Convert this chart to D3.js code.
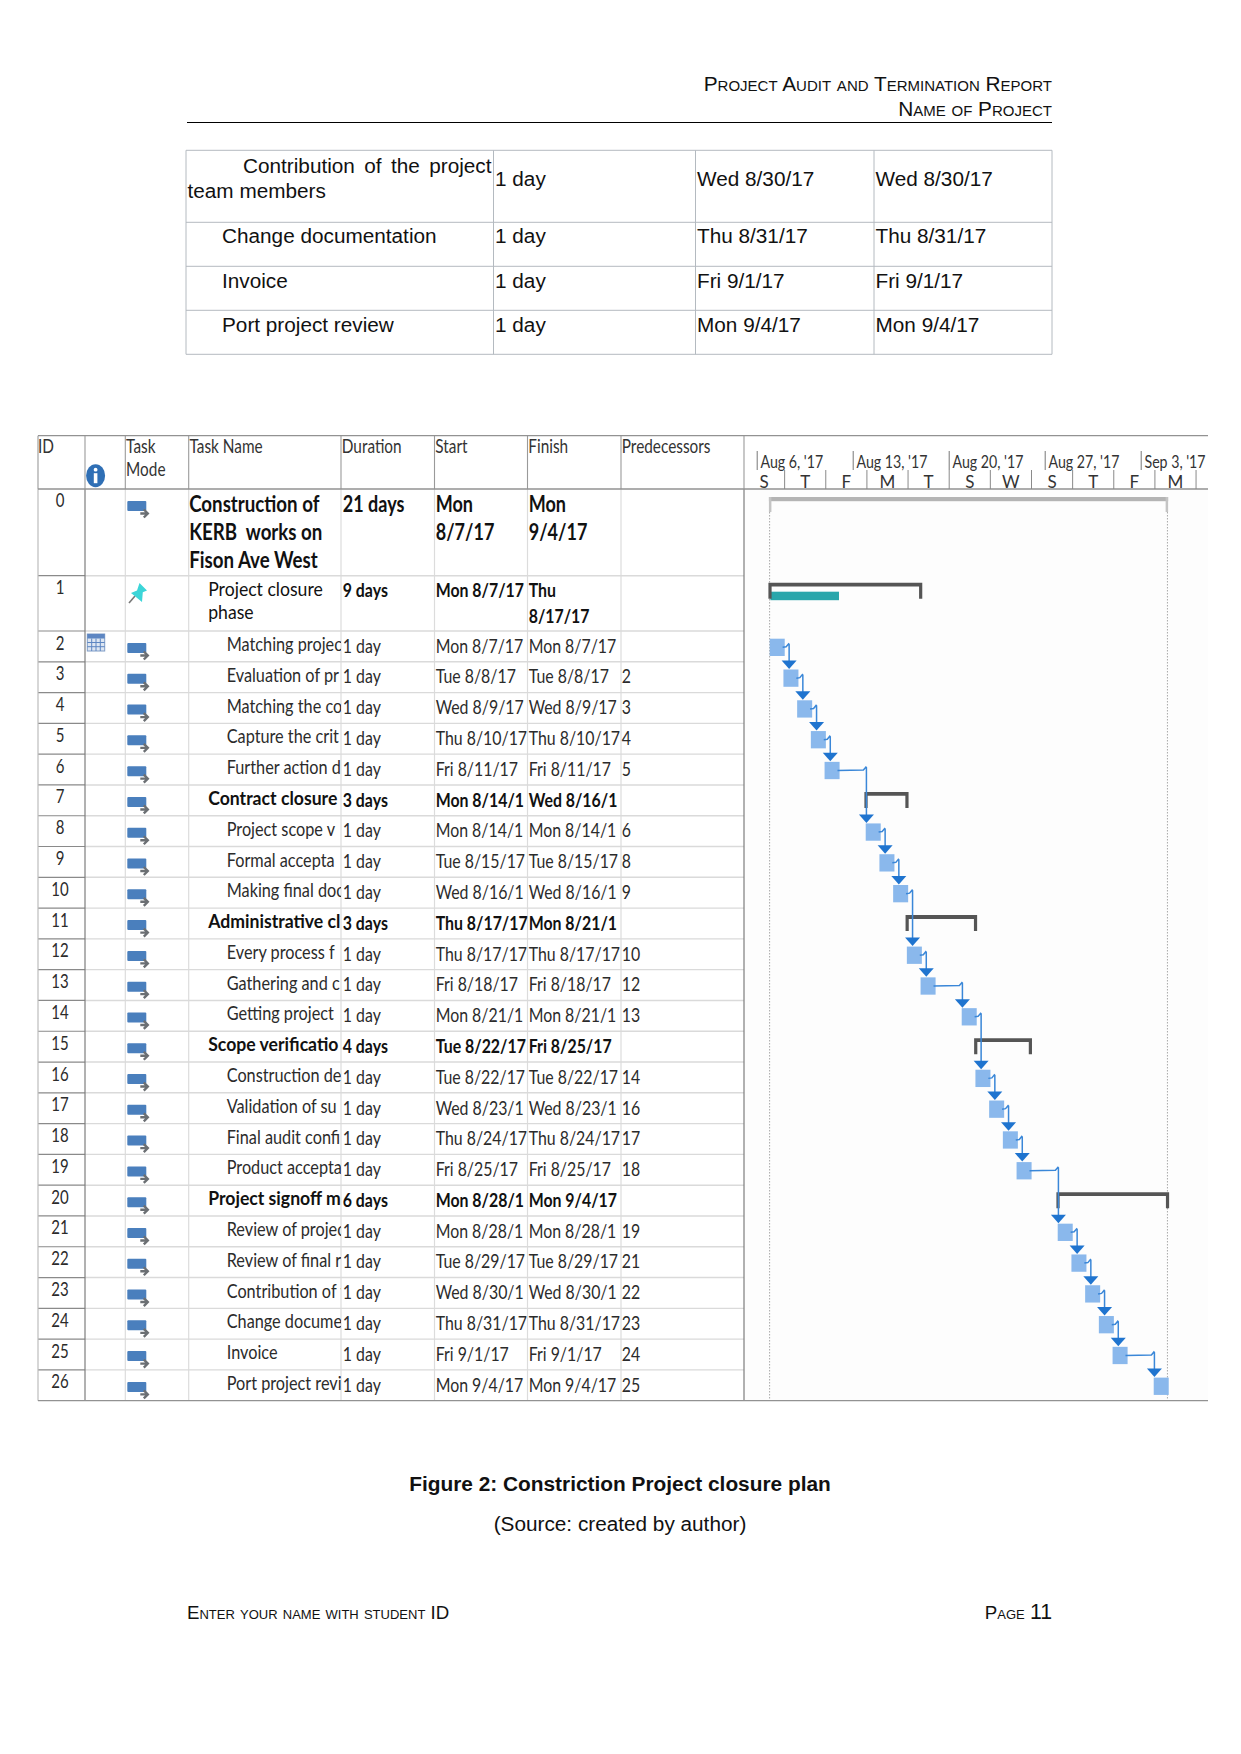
<!DOCTYPE html>
<html>
<head>
<meta charset="utf-8">
<script src="https://cdn.jsdelivr.net/npm/d3@7"></script>
<style>
  body { margin: 0; background: #fff; }
  text { white-space: pre; }
</style>
</head>
<body>
<div id="page"></div>
<script>
// Data ----------------------------------------------
const taskNames = [
  "Construction of\nKERB  works on\nFison Ave West", "Project closure\nphase",
  "Matching projec", "Evaluation of pr", "Matching the co", "Capture the crit", "Further action d",
  "Contract closure", "Project scope v", "Formal accepta", "Making final doc",
  "Administrative cl", "Every process f", "Gathering and c", "Getting project",
  "Scope verificatio", "Construction de", "Validation of su", "Final audit confi", "Product accepta",
  "Project signoff m", "Review of projec", "Review of final r", "Contribution of t", "Change docume", "Invoice", "Port project revi"
];
const levels = [0, 1, 2, 2, 2, 2, 2, 1, 2, 2, 2, 1, 2, 2, 2, 1, 2, 2, 2, 2, 1, 2, 2, 2, 2, 2, 2];
const durations = ["21 days", "9 days", "1 day", "1 day", "1 day", "1 day", "1 day", "3 days", "1 day", "1 day", "1 day",
  "3 days", "1 day", "1 day", "1 day", "4 days", "1 day", "1 day", "1 day", "1 day", "6 days", "1 day", "1 day", "1 day", "1 day", "1 day", "1 day"];
const startLabels = ["Mon\n8/7/17", "Mon 8/7/17", "Mon 8/7/17", "Tue 8/8/17", "Wed 8/9/17", "Thu 8/10/17", "Fri 8/11/17",
  "Mon 8/14/1", "Mon 8/14/1", "Tue 8/15/17", "Wed 8/16/1", "Thu 8/17/17", "Thu 8/17/17", "Fri 8/18/17", "Mon 8/21/1",
  "Tue 8/22/17", "Tue 8/22/17", "Wed 8/23/1", "Thu 8/24/17", "Fri 8/25/17", "Mon 8/28/1", "Mon 8/28/1", "Tue 8/29/17",
  "Wed 8/30/1", "Thu 8/31/17", "Fri 9/1/17", "Mon 9/4/17"];
const finishLabels = ["Mon\n9/4/17", "Thu\n8/17/17", "Mon 8/7/17", "Tue 8/8/17", "Wed 8/9/17", "Thu 8/10/17", "Fri 8/11/17",
  "Wed 8/16/1", "Mon 8/14/1", "Tue 8/15/17", "Wed 8/16/1", "Mon 8/21/1", "Thu 8/17/17", "Fri 8/18/17", "Mon 8/21/1",
  "Fri 8/25/17", "Tue 8/22/17", "Wed 8/23/1", "Thu 8/24/17", "Fri 8/25/17", "Mon 9/4/17", "Mon 8/28/1", "Tue 8/29/17",
  "Wed 8/30/1", "Thu 8/31/17", "Fri 9/1/17", "Mon 9/4/17"];
const startDates = ["8/7/17", "8/7/17", "8/7/17", "8/8/17", "8/9/17", "8/10/17", "8/11/17", "8/14/17", "8/14/17", "8/15/17", "8/16/17",
  "8/17/17", "8/17/17", "8/18/17", "8/21/17", "8/22/17", "8/22/17", "8/23/17", "8/24/17", "8/25/17", "8/28/17", "8/28/17", "8/29/17",
  "8/30/17", "8/31/17", "9/1/17", "9/4/17"];
const finishDates = ["9/4/17", "8/17/17", "8/7/17", "8/8/17", "8/9/17", "8/10/17", "8/11/17", "8/16/17", "8/14/17", "8/15/17", "8/16/17",
  "8/21/17", "8/17/17", "8/18/17", "8/21/17", "8/25/17", "8/22/17", "8/23/17", "8/24/17", "8/25/17", "9/4/17", "8/28/17", "8/29/17",
  "8/30/17", "8/31/17", "9/1/17", "9/4/17"];
const predecessors = [null, null, null, 2, 3, 4, 5, null, 6, 8, 9, null, 10, 12, 13, null, 14, 16, 17, 18, null, 19, 21, 22, 23, 24, 25];
const summaryRows = [1, 7, 11, 15, 20];
const manualBar = ["8/7/17", "8/11/17"];

const weekTicks = ["8/6/17", "8/13/17", "8/20/17", "8/27/17", "9/3/17"];
const dayTicks = ["8/5/17", "8/8/17", "8/11/17", "8/14/17", "8/17/17", "8/20/17", "8/23/17", "8/26/17", "8/29/17", "9/1/17", "9/4/17", "9/7/17"];

const columnHeads = ["ID", "", "Task\nMode", "Task Name", "Duration", "Start", "Finish", "Predecessors"];

const closeTasks = ["Change documentation", "Invoice", "Port project review"];
const closeDurations = ["1 day", "1 day", "1 day", "1 day"];
const closeStarts = ["Wed 8/30/17", "Thu 8/31/17", "Fri 9/1/17", "Mon 9/4/17"];

// Constants ----------------------------------------------
const width = 1241;
const height = 1754;
const pageFont = "'Liberation Sans', sans-serif";
const ganttFont = "Lato, sans-serif";
const columns = [38, 85, 125.3, 188.7, 341, 434.5, 527.5, 621, 744];
const ganttRight = 1208;
const headerTop = 435.7;
const headerBottom = 489;
const narrow = 0.81;
const bodySize = 19.6;

const parseDate = d3.timeParse("%-m/%-d/%y");
const start = startDates.map(parseDate);
const finish = finishDates.map(parseDate);

// Scale functions ----------------------------------------------
const xScale = d3.scaleTime()
  .domain([parseDate("8/6/17"), parseDate("9/3/17")])
  .range([756.7, 1140.7]);

const rowScale = d3.scaleLinear()
  .domain([0, 1, 2, 27])
  .range([headerBottom, 575.7, 631, 1400.7]);

const dayEnd = d => d3.timeDay.offset(d, 1);

// Functions ----------------------------------------------

// Squeezes drawn text sideways, the gantt screenshot is taller than it is wide
function squeeze(sel, factor) {
  sel.each(function () {
    const el = d3.select(this);
    const x = +el.attr("x") || 0;
    const y = +el.attr("y") || 0;
    el.attr("x", 0).attr("y", 0)
      .attr("transform", `translate(${x},${y}) scale(${factor},1)`);
  });
}

function cellText(g, x, y, str, opts = {}) {
  return g.append("text")
    .attr("x", x)
    .attr("y", y)
    .attr("font-family", opts.family || ganttFont)
    .attr("font-size", opts.size || bodySize)
    .attr("font-weight", opts.weight || 400)
    .attr("fill", opts.fill || "#2b2b2b")
    .text(str);
}

const svg = d3.select("#page").append("svg")
  .attr("width", width)
  .attr("height", height)
  .style("display", "block");

// Page header and footer
function drawPageText() {
  const g = svg.append("g")
    .attr("font-family", pageFont)
    .attr("fill", "#111");

  g.append("text").attr("x", 1052).attr("y", 91).attr("text-anchor", "end")
    .attr("font-size", 20.85).style("font-variant", "small-caps")
    .text("Project Audit and Termination Report");
  g.append("text").attr("x", 1052).attr("y", 116).attr("text-anchor", "end")
    .attr("font-size", 20.85).style("font-variant", "small-caps")
    .text("Name of Project");
  g.append("line").attr("x1", 187).attr("x2", 1052).attr("y1", 122.5).attr("y2", 122.5)
    .attr("stroke", "#000").attr("stroke-width", 1);

  g.append("text").attr("x", 620).attr("y", 1491).attr("text-anchor", "middle")
    .attr("font-size", 20.85).attr("font-weight", 700)
    .text("Figure 2: Constriction Project closure plan");
  g.append("text").attr("x", 620).attr("y", 1531).attr("text-anchor", "middle")
    .attr("font-size", 20.75)
    .text("(Source: created by author)");

  g.append("text").attr("x", 187).attr("y", 1619)
    .attr("font-size", 18.7).style("font-variant", "small-caps")
    .text("Enter your name with student ID");
  const page = g.append("text").attr("x", 1052).attr("y", 1619).attr("text-anchor", "end")
    .attr("font-size", 18.7).style("font-variant", "small-caps");
  page.append("tspan").text("Page ");
  page.append("tspan").attr("font-size", 21.3).text("11");
}

// Small table continued from the previous page
function drawCloseTable() {
  const xs = [186, 493.5, 695.5, 874, 1052];
  const ys = [150.3, 222.3, 266.3, 310.3, 354.3];
  const g = svg.append("g");

  g.selectAll(".hline").data(ys).enter().append("line")
    .attr("x1", xs[0]).attr("x2", xs[4])
    .attr("y1", d => d).attr("y2", d => d)
    .attr("stroke", "#b4bac0").attr("stroke-width", 1);
  g.selectAll(".vline").data(xs).enter().append("line")
    .attr("y1", ys[0]).attr("y2", ys[4])
    .attr("x1", d => d).attr("x2", d => d)
    .attr("stroke", "#b4bac0").attr("stroke-width", 1);

  const opts = {family: pageFont, size: 20.75, fill: "#111"};
  const first = cellText(g, 243, 172.5, "Contribution of the project", opts);
  first.attr("word-spacing", (248.5 - first.node().getComputedTextLength()) / 3);
  cellText(g, 187.5, 198, "team members", opts);

  const baselines = [186, 242.7, 287.7, 331.7];
  closeTasks.forEach((d, i) => cellText(g, 222, baselines[i + 1], d, opts));
  baselines.forEach((y, i) => {
    cellText(g, 495, y, closeDurations[i], opts);
    cellText(g, 697, y, closeStarts[i], opts);
    cellText(g, 875.5, y, closeStarts[i], opts);
  });
}

function drawGrid() {
  const g = svg.append("g");

  g.append("rect").attr("x", columns[8]).attr("y", headerBottom)
    .attr("width", ganttRight - columns[8]).attr("height", 1400.7 - headerBottom)
    .attr("fill", "#fdfdfd");

  // Body column rules
  g.selectAll(".col").data(columns.slice(2, 8)).enter().append("line")
    .attr("x1", d => d).attr("x2", d => d)
    .attr("y1", headerBottom).attr("y2", 1400.7)
    .attr("stroke", "#dcdcdc").attr("stroke-width", 1.2);

  // Row rules, darker across the ID column
  const rows = d3.range(1, 27);
  g.selectAll(".row").data(rows).enter().append("line")
    .attr("x1", columns[1]).attr("x2", columns[8])
    .attr("y1", d => rowScale(d)).attr("y2", d => rowScale(d))
    .attr("stroke", "#dadada").attr("stroke-width", 1.4);
  g.selectAll(".rowid").data(rows).enter().append("line")
    .attr("x1", columns[0]).attr("x2", columns[1])
    .attr("y1", d => rowScale(d)).attr("y2", d => rowScale(d))
    .attr("stroke", "#8a8a8a").attr("stroke-width", 1.2);

  // Header rules
  g.selectAll(".head").data(columns).enter().append("line")
    .attr("x1", d => d).attr("x2", d => d)
    .attr("y1", headerTop).attr("y2", headerBottom)
    .attr("stroke", "#9a9a9a").attr("stroke-width", 1.1);
  [columns[0], columns[1], columns[8]].forEach(x => {
    g.append("line").attr("x1", x).attr("x2", x)
      .attr("y1", headerBottom).attr("y2", 1400.7)
      .attr("stroke", x === columns[0] ? "#bdbdbd" : "#7d7d7d").attr("stroke-width", 1.2);
  });
  [headerTop, headerBottom, 1400.7].forEach(y => {
    g.append("line").attr("x1", columns[0]).attr("x2", ganttRight)
      .attr("y1", y).attr("y2", y)
      .attr("stroke", "#929292").attr("stroke-width", 1.3);
  });
}

function drawColumnHeads() {
  const g = svg.append("g");
  columnHeads.forEach((head, i) => {
    head.split("\n").forEach((line, j) => {
      if (line) cellText(g, columns[i] + (i ? 0.8 : 0), 453 + j * 22.7, line, {size: 18.5, fill: "#333"}).call(squeeze, 0.83);
    });
  });

  // Info icon
  const info = g.append("g").attr("transform", "translate(95.6,475.7)");
  info.append("ellipse").attr("rx", 9.5).attr("ry", 11.5).attr("fill", "#2f6fb5");
  info.append("circle").attr("cy", -6).attr("r", 1.9).attr("fill", "#fff");
  info.append("rect").attr("x", -1.8).attr("y", -2.5).attr("width", 3.6).attr("height", 10).attr("fill", "#fff");
}

function drawTaskTable() {
  const g = svg.append("g");
  const defs = svg.append("defs");
  defs.append("clipPath").attr("id", "nameClip").append("rect")
    .attr("x", columns[3]).attr("y", headerBottom)
    .attr("width", columns[4] - columns[3]).attr("height", 1400.7 - headerBottom);

  taskNames.forEach((name, i) => {
    const top = rowScale(i);
    const heavy = summaryRows.includes(i) || i === 0;
    const weight = heavy ? 700 : 400;
    const fill = heavy ? "#111" : "#2b2b2b";
    const tall = i === 0 ? 28 : 23.5;
    const nameX = columns[3] + [0.5, 19.5, 38][levels[i]];
    const rowSize = i === 0 ? 22 : bodySize;
    // Summary names run wider than their dates in the screenshot
    const nameSqueeze = i === 0 ? 0.85 : i === 1 ? 0.9 : heavy ? 0.9 : narrow + 0.02;

    cellText(g, 60, top + (i < 2 ? 18 : 18.5), i, {size: 18.5}).attr("text-anchor", "middle").call(squeeze, narrow);

    const nameRow = g.append("g").attr("clip-path", "url(#nameClip)");
    name.split("\n").forEach((line, j) => {
      cellText(nameRow, nameX, top + (i === 0 ? 22.7 : 20) + j * tall, line, {
        weight: i === 1 ? 400 : weight,
        fill,
        size: rowSize
      }).call(squeeze, nameSqueeze);
    });

    const lineY = top + (i === 0 ? 22.7 : 21.7);
    const cellSqueeze = i === 0 ? 0.82 : narrow;
    cellText(g, columns[4] + 1.8, lineY, durations[i], {weight, fill, size: rowSize}).call(squeeze, cellSqueeze);
    startLabels[i].split("\n").forEach((line, j) => {
      cellText(g, columns[5] + 1.2, lineY + j * tall, line, {weight, fill, size: rowSize}).call(squeeze, cellSqueeze);
    });
    finishLabels[i].split("\n").forEach((line, j) => {
      cellText(g, columns[6] + 1.2, lineY + j * (i === 1 ? 26 : tall), line, {weight, fill, size: rowSize}).call(squeeze, cellSqueeze);
    });
    if (predecessors[i] !== null) {
      cellText(g, columns[7] + 0.8, lineY, predecessors[i]).call(squeeze, narrow);
    }

    // Task mode icon
    if (i === 1) {
      g.append("line").attr("x1", 129).attr("y1", 603).attr("x2", 135).attr("y2", 596)
        .attr("stroke", "#777").attr("stroke-width", 1.6);
      g.append("polygon")
        .attr("points", "139.5,583 147,590.5 142.8,592.3 142,602 131,593 137,590.5")
        .attr("fill", "#3cd5d8");
    } else {
      const icon = g.append("g").attr("transform", `translate(127.3,${top + 12})`);
      icon.append("rect").attr("width", 19).attr("height", 10).attr("rx", 1).attr("fill", "#4a7fbd");
      icon.append("path").attr("d", "M13,12.5 H20 M16.5,8.5 L20.5,12.5 L16.5,16.5")
        .attr("fill", "none").attr("stroke", "#6b6f73").attr("stroke-width", 2.4);
    }
  });

  // Calendar icon on row 2
  const top = rowScale(2);
  const cal = g.append("g").attr("transform", `translate(87.3,${top + 3})`);
  cal.append("rect").attr("width", 17.4).attr("height", 17).attr("fill", "#dde6f2").attr("stroke", "#7f9cc6");
  cal.append("rect").attr("width", 17.4).attr("height", 4.5).attr("fill", "#5d86c2");
  [4.4, 8.7, 13].forEach(x => cal.append("line").attr("x1", x).attr("x2", x).attr("y1", 4.5).attr("y2", 17).attr("stroke", "#5d86c2"));
  [8.5, 12.7].forEach(y => cal.append("line").attr("x1", 0).attr("x2", 17.4).attr("y1", y).attr("y2", y).attr("stroke", "#5d86c2"));
}

function drawTimescale() {
  const g = svg.append("g");

  const weeks = g.append("g")
    .attr("transform", "translate(0,470)")
    .call(d3.axisTop(xScale)
      .tickValues(weekTicks.map(parseDate))
      .tickFormat(d3.timeFormat("%b %-d, '%y"))
      .tickSize(19)
      .tickSizeOuter(0));
  weeks.select(".domain").remove();
  weeks.selectAll("line").attr("stroke", "#777");
  weeks.selectAll("text")
    .attr("x", 3.3).attr("y", -1.7)
    .attr("dy", null)
    .attr("text-anchor", "start")
    .attr("font-family", ganttFont)
    .attr("font-size", 17.5)
    .attr("fill", "#333")
    .call(squeeze, 0.81);

  const days = dayTicks.map(parseDate);
  const lastDay = days[days.length - 1];
  const dayAxis = g.append("g")
    .attr("transform", `translate(0,${headerBottom})`)
    .call(d3.axisTop(xScale)
      .tickValues(days)
      .tickFormat(d => +d === +lastDay ? "" : d3.timeFormat("%a")(d)[0])
      .tickSize(19)
      .tickSizeOuter(0));
  dayAxis.select(".domain").remove();
  dayAxis.selectAll("line").attr("stroke", d => +d === +days[0] ? "none" : "#8a8a8a");
  dayAxis.selectAll("text")
    .attr("x", xScale(days[1]) / 2 - xScale(days[0]) / 2)
    .attr("y", -1.5)
    .attr("dy", null)
    .attr("text-anchor", "middle")
    .attr("font-family", ganttFont)
    .attr("font-size", 17)
    .attr("fill", "#333");
}

function drawBars() {
  const g = svg.append("g");
  const barTop = i => rowScale(i) + 7.7;
  const barH = 17.3;

  // Dotted project limits
  [xScale(start[0]) - 0.8, xScale(dayEnd(finish[0])) - 0.7].forEach(x => {
    g.append("line").attr("x1", x).attr("x2", x).attr("y1", 497).attr("y2", 1400)
      .attr("stroke", "#a8a8a8").attr("stroke-width", 1).attr("stroke-dasharray", "1.5,1.5");
  });

  // Project summary
  const x0 = xScale(start[0]) - 1.5;
  const x1 = xScale(dayEnd(finish[0]));
  g.append("rect").attr("x", x0).attr("y", 497).attr("width", x1 - x0).attr("height", 4.2).attr("fill", "#b4b4b4");
  [x0, x1 - 2.5].forEach(x => {
    g.append("rect").attr("x", x).attr("y", 497).attr("width", 2.5).attr("height", 15)
      .attr("fill", "#c4c4c4");
  });

  // Teal manual bar under row 1
  g.append("rect")
    .attr("x", xScale(parseDate(manualBar[0])))
    .attr("y", 591.7)
    .attr("width", xScale(dayEnd(parseDate(manualBar[1]))) - xScale(parseDate(manualBar[0])))
    .attr("height", 8.5)
    .attr("fill", "#2aa6ab");

  // Summary brackets
  g.selectAll(".summary").data(summaryRows).enter().append("path")
    .attr("class", "summary")
    .attr("d", i => {
      const a = xScale(start[i]) - 2;
      const b = xScale(dayEnd(finish[i])) + 1;
      const t = rowScale(i) + 7;
      return `M${a},${t + 16} V${t} H${b} V${t + 16} H${b - 3.2} V${t + 3.8} H${a + 3.2} V${t + 16} Z`;
    })
    .attr("fill", "#555");

  // Task bars
  const tasks = d3.range(2, 27).filter(i => !summaryRows.includes(i));
  g.selectAll(".task").data(tasks).enter().append("rect")
    .attr("class", "task")
    .attr("x", i => xScale(start[i]) - 0.7)
    .attr("y", barTop)
    .attr("width", i => xScale(dayEnd(finish[i])) - xScale(start[i]) + 1.3)
    .attr("height", barH)
    .attr("fill", "#8ab8ec");

  // Dependency links
  const links = tasks.filter(i => predecessors[i] !== null)
    .map(i => ({source: predecessors[i], target: i}));
  const linkX = d => Math.max(xScale(start[d.target]), xScale(dayEnd(finish[d.source])) + 5);

  g.selectAll(".link").data(links).enter().append("path")
    .attr("class", "link")
    .attr("d", d => {
      const mid = barTop(d.source) + barH / 2;
      const sx = xScale(dayEnd(finish[d.source])) - 1.5;
      const lx = linkX(d);
      return `M${sx},${mid} L${lx - 3},${mid - 0.5} L${lx - 0.5},${mid - 3.5} L${lx},${mid - 3} V${barTop(d.target) - 6}`;
    })
    .attr("fill", "none")
    .attr("stroke", "#3a87d8")
    .attr("stroke-width", 1.5);

  g.selectAll(".arrow").data(links).enter().append("path")
    .attr("class", "arrow")
    .attr("d", d => {
      const lx = linkX(d);
      const t = barTop(d.target);
      return `M${lx - 7.5},${t - 9} H${lx + 7.5} L${lx},${t - 0.5} Z`;
    })
    .attr("fill", "#1f74cf");
}

drawPageText();
drawCloseTable();
drawGrid();
drawColumnHeads();
drawTaskTable();
drawTimescale();
drawBars();
</script>
</body>
</html>
